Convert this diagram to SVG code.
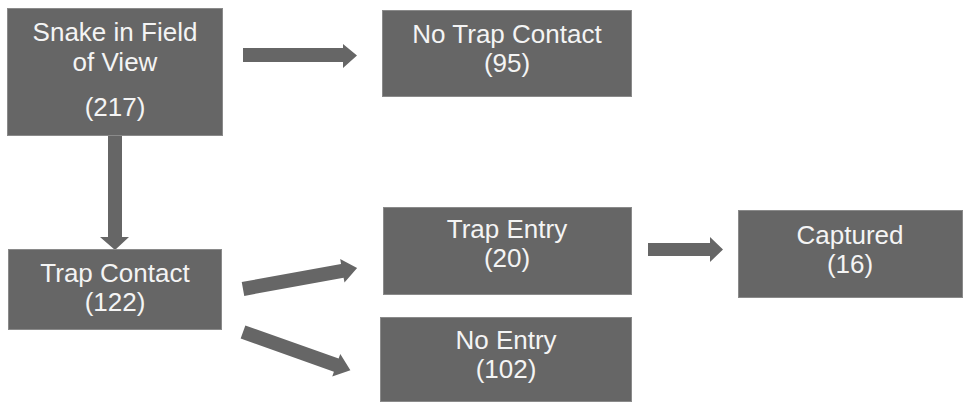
<svg xmlns="http://www.w3.org/2000/svg" width="964" height="404" viewBox="0 0 964 404">
<style>
.box{fill:#666666;stroke:#8a8a8a;stroke-width:1}
.t{font-family:"Liberation Sans",Arial,sans-serif;font-size:26px;fill:#f4f4f4;text-anchor:middle}
.arr{fill:#666666}
</style>
<rect width="964" height="404" fill="#ffffff"/>
<g id="connectors">
<polygon class="arr" points="243,48 343,48 343,44 357,55.5 343,68 343,62 243,62"/>
<polygon class="arr" points="108,136 122,136 122,237 129,237 115,250 100,237 108,237"/>
<polygon class="arr" points="648,243 710,243 710,237 723,249.5 710,262 710,256 648,256"/>
<polygon class="arr" transform="translate(243,289) rotate(-10.4)" points="0,-7 101,-7 101,-12 116,0 101,12 101,7 0,7"/>
<polygon class="arr" transform="translate(243,332) rotate(19.6)" points="0,-7 99,-7 99,-12 114,0 99,12 99,7 0,7"/>
</g>
<g id="snake">
<rect class="box" x="7.5" y="8.5" width="215" height="127"/>
<text class="t" x="115" y="41">Snake in Field</text>
<text class="t" x="115" y="71">of View</text>
<text class="t" x="115" y="116">(217)</text>
</g>
<g id="notrap">
<rect class="box" x="382.5" y="10.5" width="249" height="86"/>
<text class="t" x="507" y="43">No Trap Contact</text>
<text class="t" x="507" y="72">(95)</text>
</g>
<g id="trapcontact">
<rect class="box" x="8.5" y="249.5" width="213" height="80"/>
<text class="t" x="115" y="282">Trap Contact</text>
<text class="t" x="115" y="311">(122)</text>
</g>
<g id="trapentry">
<rect class="box" x="383.5" y="207.5" width="248" height="87"/>
<text class="t" x="507" y="238">Trap Entry</text>
<text class="t" x="507" y="267">(20)</text>
</g>
<g id="noentry">
<rect class="box" x="380.5" y="317.5" width="251" height="84"/>
<text class="t" x="506" y="349">No Entry</text>
<text class="t" x="506" y="378">(102)</text>
</g>
<g id="captured">
<rect class="box" x="738.5" y="210.5" width="224" height="87"/>
<text class="t" x="850" y="244">Captured</text>
<text class="t" x="850" y="273">(16)</text>
</g>
</svg>
